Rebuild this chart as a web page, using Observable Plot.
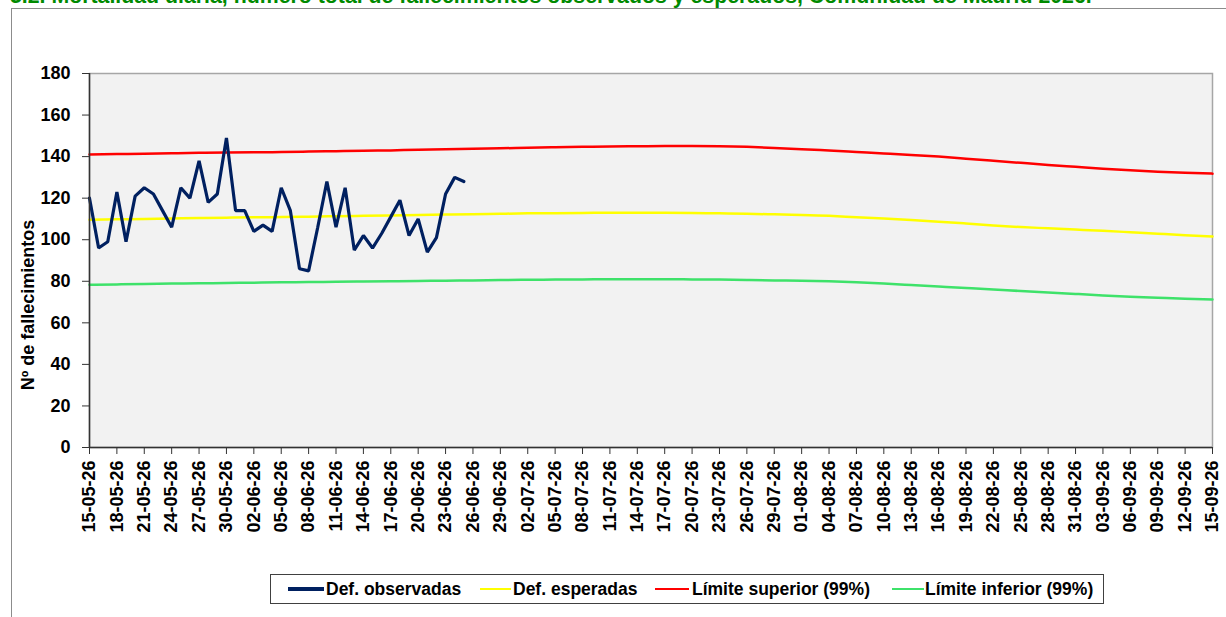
<!DOCTYPE html>
<html>
<head>
<meta charset="utf-8">
<script src="https://cdn.jsdelivr.net/npm/d3@7"></script>
<script src="https://cdn.jsdelivr.net/npm/@observablehq/plot@0.6"></script>
<style>
  html, body { margin: 0; padding: 0; background: #fff; }
  body { width: 1226px; height: 617px; position: relative; overflow: hidden;
         font-family: "Liberation Sans", Arial, sans-serif; font-weight: bold; }
  #title { position: absolute; left: 10px; top: -14px; font-size: 21.3px; line-height: 21.3px;
           color: #008a00; white-space: nowrap; }
  #frame { position: absolute; left: 11px; top: 8px; width: 1300px; height: 700px;
           border-left: 1px solid #8c8c8c; border-top: 1px solid #8c8c8c; }
  #chart { position: absolute; left: 0; top: 0; }
  #ylabel { position: absolute; left: 28px; top: 305px; transform: translate(-50%, -50%) rotate(-90deg);
            font-size: 18px; white-space: nowrap; color: #000; }
  #legend { position: absolute; left: 270px; top: 574px; width: 832px; height: 28px;
            border: 1px solid #404040; background: #fff; }
  .swatch { position: absolute; top: 13px; }
  .ltext { position: absolute; top: 4px; font-size: 17.5px; line-height: 20px; white-space: nowrap; color: #000; }
</style>
</head>
<body>
<div id="frame"></div>
<div id="title">5.2. Mortalidad diaria, número total de fallecimientos observados y esperados, Comunidad de Madrid 2026.</div>
<div id="chart"></div>
<div id="ylabel">Nº de fallecimientos</div>
<div id="legend"></div>
<script>
// ---- Data ----
const tickLabels = ["15-05-26","18-05-26","21-05-26","24-05-26","27-05-26","30-05-26","02-06-26","05-06-26",
  "08-06-26","11-06-26","14-06-26","17-06-26","20-06-26","23-06-26","26-06-26","29-06-26","02-07-26",
  "05-07-26","08-07-26","11-07-26","14-07-26","17-07-26","20-07-26","23-07-26","26-07-26","29-07-26",
  "01-08-26","04-08-26","07-08-26","10-08-26","13-08-26","16-08-26","19-08-26","22-08-26","25-08-26",
  "28-08-26","31-08-26","03-09-26","06-09-26","09-09-26","12-09-26","15-09-26"];
const yTicks = [0, 20, 40, 60, 80, 100, 120, 140, 160, 180];

// Daily observed deaths from 15-05-26
const observedStart = "15-05-26";
const observed = [120, 96, 99, 123, 99, 121, 125, 122, 114, 106, 125, 120, 138, 118, 122, 149, 114, 114,
  104, 107, 104, 125, 114, 86, 85, 106, 128, 106, 125, 95, 102, 96, 103, 111, 119, 102, 110, 94, 101,
  122, 130, 128];

// Expected and 99% limits, read at each tick date (every 3 days)
const expected = [109.6, 109.8, 110.0, 110.2, 110.4, 110.6, 110.8, 110.9, 111.1, 111.3, 111.5, 111.7,
  111.9, 112.1, 112.3, 112.5, 112.7, 112.8, 112.9, 113.0, 113.0, 113.0, 112.9, 112.7, 112.5, 112.2,
  111.9, 111.5, 110.8, 110.2, 109.5, 108.7, 107.8, 106.9, 106.1, 105.5, 104.9, 104.3, 103.6, 102.9,
  102.2, 101.6];
const upper = [141.0, 141.2, 141.4, 141.6, 141.8, 142.0, 142.1, 142.2, 142.4, 142.6, 142.8, 143.0,
  143.3, 143.5, 143.8, 144.0, 144.3, 144.5, 144.7, 144.9, 145.0, 145.1, 145.1, 145.0, 144.7, 144.2,
  143.6, 142.9, 142.2, 141.5, 140.8, 140.0, 139.0, 138.0, 137.0, 136.0, 135.1, 134.2, 133.4, 132.7,
  132.2, 131.8];
const lower = [78.3, 78.5, 78.7, 78.9, 79.0, 79.2, 79.3, 79.5, 79.6, 79.8, 79.9, 80.0, 80.1, 80.3,
  80.4, 80.6, 80.7, 80.8, 80.9, 81.0, 81.0, 81.0, 80.9, 80.8, 80.6, 80.4, 80.3, 80.0, 79.5, 78.9,
  78.2, 77.5, 76.8, 76.1, 75.3, 74.6, 73.9, 73.2, 72.6, 72.1, 71.6, 71.2];

const seriesNames = ["Def. observadas", "Def. esperadas", "Límite superior (99%)", "Límite inferior (99%)"];
const seriesColors = ["#002060", "#ffff00", "#ff0000", "#3ee26a"];

// ---- Build tables ----
const parseD = s => { const [d, m, y] = s.split("-").map(Number); return new Date(Date.UTC(2000 + y, m - 1, d)); };
const tickDates = tickLabels.map(parseD);
const labelOf = new Map(tickDates.map((d, i) => [+d, tickLabels[i]]));
const DAY = 864e5;
const obsStart = +parseD(observedStart);
const obsData = observed.map((v, i) => ({date: new Date(obsStart + i * DAY), value: v}));
const refData = tickDates.map((d, i) => ({date: d, exp: expected[i], up: upper[i], lo: lower[i]}));

const font = "'Liberation Sans', Arial, sans-serif";
const chart = Plot.plot({
  width: 1226, height: 617,
  marginLeft: 89, marginRight: 14, marginTop: 73, marginBottom: 170,
  style: {fontFamily: font, fontSize: "18px", fontWeight: "bold", color: "#000", background: "transparent", overflow: "visible"},
  x: {type: "utc", domain: [tickDates[0], tickDates[tickDates.length - 1]]},
  y: {domain: [0, 180]},
  marks: [
    Plot.frame({fill: "#f2f2f2", stroke: "#a6a6a6", strokeWidth: 1.5}),
    Plot.line(refData, {x: "date", y: "lo", stroke: seriesColors[3], strokeWidth: 2.5, curve: "natural"}),
    Plot.line(refData, {x: "date", y: "exp", stroke: seriesColors[1], strokeWidth: 2.5, curve: "natural"}),
    Plot.line(refData, {x: "date", y: "up", stroke: seriesColors[2], strokeWidth: 2.5, curve: "natural"}),
    Plot.line(obsData, {x: "date", y: "value", stroke: seriesColors[0], strokeWidth: 3.2, strokeLinejoin: "miter"}),
    Plot.axisY({ticks: yTicks, tickSize: 7, tickPadding: 12, tickFormat: d => String(d), label: null,
                stroke: "#333", fontSize: 18, fontWeight: "bold", fontFamily: font}),
    Plot.axisX({ticks: tickDates, tickSize: 7, tickPadding: 6, tickRotate: -90,
                tickFormat: d => labelOf.get(+d), label: null, stroke: "#333",
                fontSize: 18, fontWeight: "bold", fontFamily: font}),
    Plot.ruleX([tickDates[0]], {stroke: "#333", strokeWidth: 1.5}),
    Plot.ruleY([0], {stroke: "#333", strokeWidth: 1.5})
  ]
});
document.getElementById("chart").appendChild(chart);

// ---- Legend ----
const legendItems = [
  {lineL: 17, lineW: 36, textL: 55, sw: 3.2},
  {lineL: 209, lineW: 31, textL: 242, sw: 2.5},
  {lineL: 384, lineW: 34, textL: 421, sw: 2.5},
  {lineL: 621, lineW: 32, textL: 654, sw: 2.5}
];
const legend = document.getElementById("legend");
seriesNames.forEach((name, i) => {
  const it = legendItems[i];
  const sw = document.createElement("div");
  sw.className = "swatch";
  sw.style.left = it.lineL + "px";
  sw.style.width = it.lineW + "px";
  sw.style.height = it.sw + "px";
  sw.style.marginTop = (-it.sw / 2 + 1) + "px";
  sw.style.background = seriesColors[i];
  legend.appendChild(sw);
  const tx = document.createElement("div");
  tx.className = "ltext";
  tx.style.left = it.textL + "px";
  tx.textContent = name;
  legend.appendChild(tx);
});
</script>
</body>
</html>
